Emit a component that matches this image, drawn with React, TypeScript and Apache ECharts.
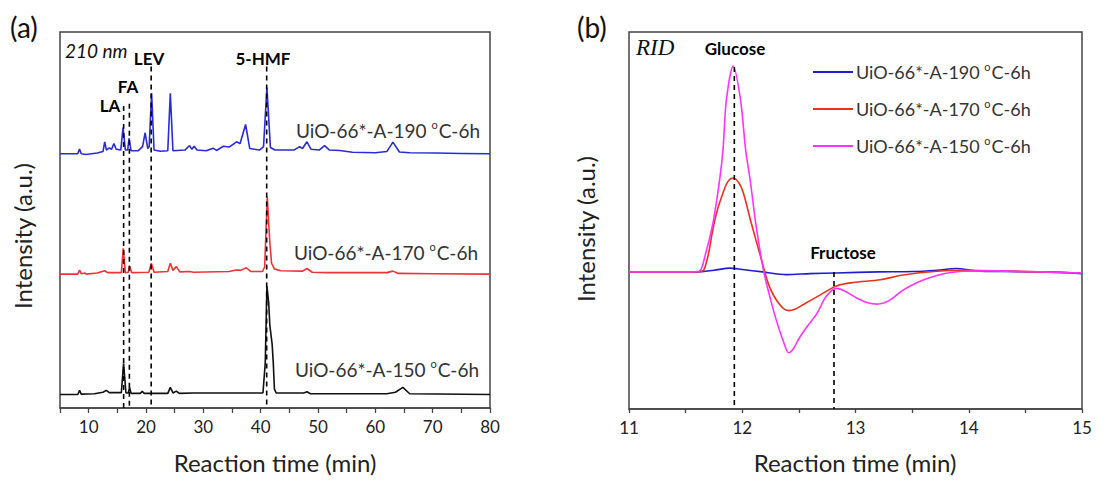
import React, { useEffect, useRef } from "react";
import * as echarts from "echarts";

// ---------- Panel (a): UV 210 nm chromatograms ----------
const blueA: number[][] = [
  [5, 67.6], [8.1, 67.6], [8.4, 68.9], [8.7, 67.6], [9.5, 67.4], [11.5, 67.8], [12.5, 68.2], [12.8, 70.8],
  [13.1, 68.6], [13.6, 69.2], [14.0, 68.8], [14.4, 70.3], [14.8, 68.8], [15.6, 68.6], [16.0, 74.6], [16.4, 68.6],
  [16.8, 68.6], [17.05, 71.7], [17.4, 68.4], [18.6, 68.4], [19.4, 69.5], [19.85, 73.2], [20.3, 69.0], [20.55, 69.5],
  [20.98, 83.7], [21.4, 68.6], [22.5, 68.3], [23.8, 68.4], [24.24, 83.7], [24.7, 68.4], [26.8, 68.6], [27.6, 69.8],
  [28.0, 68.8], [28.4, 69.6], [28.9, 68.6], [30.5, 68.4], [31.7, 69.1], [32.3, 68.5], [33.5, 69.6], [34.5, 69.4],
  [35.8, 70.8], [36.4, 70.3], [37.37, 75.4], [38.1, 69.0], [39.8, 68.6], [40.5, 69.5], [41.09, 85.2], [41.7, 69.3],
  [42.5, 68.6], [45.8, 68.6], [46.8, 69.5], [47.3, 69.0], [48.07, 70.8], [48.8, 68.8], [50.2, 68.6], [51.15, 69.8],
  [52.0, 68.6], [53.8, 68.5], [56, 68.0], [60, 67.9], [62.0, 68.2], [63.07, 70.7], [64.2, 68.1], [66, 67.9],
  [70.6, 67.8], [75, 67.7], [80, 67.6],
];
const redA: number[][] = [
  [5, 35.6], [8.1, 35.6], [8.42, 36.7], [8.7, 35.7], [9.3, 35.9], [9.6, 35.6], [11.5, 35.9], [12.8, 36.5],
  [13.3, 36.0], [15.7, 36.0], [16.04, 42.5], [16.4, 36.0], [16.9, 36.1], [17.14, 37.8], [17.5, 36.0], [20.5, 36.1],
  [20.93, 38.5], [21.4, 36.1], [23.8, 36.3], [24.24, 38.5], [24.7, 36.6], [25.29, 37.6], [25.9, 36.2], [27.6, 36.3],
  [28.3, 36.1], [34.5, 36.3], [35.75, 36.7], [36.5, 36.6], [37.5, 37.3], [38.3, 36.3], [40.3, 36.3], [40.7, 37.5],
  [41.15, 56.2], [41.6, 44], [41.9, 38.5], [42.4, 37.0], [43.5, 36.5], [47.3, 36.4], [48.07, 37.1], [49, 36.1],
  [51.5, 36.0], [62, 36.0], [63.07, 36.4], [64, 35.8], [70, 35.7], [80, 35.6],
];
const blackA: number[][] = [
  [5, 3.6], [8.1, 3.6], [8.42, 4.7], [8.7, 3.7], [11, 3.8], [12.5, 4.2], [13.07, 4.7], [13.6, 4.1],
  [15.7, 4.1], [16.09, 11.9], [16.5, 4.0], [16.9, 4.0], [17.14, 5.5], [17.4, 3.9], [19.0, 3.9], [19.35, 4.4],
  [19.7, 3.9], [23.8, 3.9], [24.24, 5.5], [24.7, 4.0], [25.29, 4.5], [25.8, 3.9], [28.3, 4.0], [35.5, 4.0],
  [40.4, 4.0], [40.8, 12], [41.09, 32.4], [41.4, 28], [41.6, 22], [42.0, 17], [42.2, 12], [42.4, 5],
  [42.7, 4.0], [47.5, 4.0], [48.07, 4.3], [48.7, 3.8], [62, 3.8], [63.5, 4.2], [64.8, 5.5], [66, 3.8], [80, 3.6],
];
const markerTimesA = [16.1, 17.1, 20.9, 41.05];
const markerTopsA = [80.3, 80.9, 90.8, 90.8];
const markerNamesA = ["LA", "FA", "LEV", "5-HMF"];

// ---------- Panel (b): RID chromatograms ----------
const blueB: number[][] = [
  [11, 0], [11.6, 0], [11.75, 0.5], [11.89, 1.1], [12.0, 0.7], [12.18, 0], [12.39, -0.8], [12.6, -0.5],
  [12.83, -0.3], [13.2, 0], [13.5, 0.1], [13.72, 0.5], [13.89, 1.0], [14.07, 0.3], [14.3, 0.1], [14.7, 0], [15, -0.5],
];
const redB: number[][] = [
  [11, 0], [11.55, 0], [11.63, 0.1], [11.66, 0.5], [11.7, 5], [11.74, 12.3], [11.78, 18], [11.83, 23],
  [11.87, 26.2], [11.92, 27.4], [11.97, 26], [12.01, 23], [12.08, 14.2], [12.17, 3.5], [12.24, -4.3], [12.33, -9.5],
  [12.41, -11.3], [12.47, -10.8], [12.54, -9.5], [12.69, -6.7], [12.83, -4.1], [12.98, -3.1], [13.22, -2.3],
  [13.42, -0.9], [13.72, 0.2], [14.0, 0.5], [14.3, 0.3], [14.6, 0], [15, -0.4],
];
const magentaB: number[][] = [
  [11, 0], [11.5, 0], [11.62, 0.2], [11.67, 4.5], [11.74, 14], [11.8, 26.8], [11.83, 35.6], [11.86, 50.2],
  [11.92, 60.1], [11.985, 50.2], [12.03, 35.6], [12.07, 26.8], [12.12, 14], [12.19, 0], [12.25, -8], [12.3, -14],
  [12.36, -20], [12.41, -23.6], [12.45, -22.5], [12.5, -19.5], [12.56, -16.5], [12.66, -12.1], [12.74, -7.2],
  [12.83, -4.8], [12.9, -5.5], [13.01, -7.6], [13.1, -8.9], [13.19, -9.4], [13.3, -8.3], [13.42, -5.3],
  [13.55, -3], [13.66, -1.6], [13.8, -0.4], [13.95, 0.2], [14.2, 0.3], [14.5, 0.1], [15, -0.3],
];
const markerTimesB = [11.93, 12.81];
const markerTopsB = [59.8, 0];

const sampleNames = ["UiO-66*-A-190 °C-6h", "UiO-66*-A-170 °C-6h", "UiO-66*-A-150 °C-6h"];
const FONT = "Lato, 'Open Sans', sans-serif";

function supText(s: string) {
  return s.replace(" °C", " {s|o}C");
}

export default function App() {
  const ref = useRef<HTMLDivElement>(null);
  useEffect(() => {
    if (!ref.current) return;
    const chart = echarts.init(ref.current, undefined, { renderer: "svg" });
    const dashStyle = { color: "#000", width: 1.6, type: [5, 4] as any };
    const axisColor = "#444";

    const seriesA: any[] = [
      { name: "a190", data: blueA, color: "#2a2ad8" },
      { name: "a170", data: redA, color: "#ee3333" },
      { name: "a150", data: blackA, color: "#111111" },
    ].map((s) => ({
      type: "line", name: s.name, xAxisIndex: 0, yAxisIndex: 0, data: s.data, symbol: "none",
      lineStyle: { color: s.color, width: 1.6 }, itemStyle: { color: s.color }, z: 2, silent: true,
    }));
    markerTimesA.forEach((t, i) => {
      seriesA.push({
        type: "line", name: "mA" + i, xAxisIndex: 0, yAxisIndex: 0, symbol: "none", z: 5, silent: true,
        data: [[t, markerTopsA[i]], [t, 0]], lineStyle: dashStyle,
      });
    });

    const seriesB: any[] = [
      { name: sampleNames[0], data: blueB, color: "#1e1ed0" },
      { name: sampleNames[1], data: redB, color: "#e8321e" },
      { name: sampleNames[2], data: magentaB, color: "#ff33ff" },
    ].map((s) => ({
      type: "line", name: s.name, xAxisIndex: 1, yAxisIndex: 1, data: s.data, symbol: "none", smooth: 0.3,
      lineStyle: { color: s.color, width: 1.6 }, itemStyle: { color: s.color }, z: 2, silent: true,
    }));
    markerTimesB.forEach((t, i) => {
      seriesB.push({
        type: "line", name: "mB" + i, xAxisIndex: 1, yAxisIndex: 1, symbol: "none", z: 5, silent: true,
        data: [[t, markerTopsB[i]], [t, -40]], lineStyle: dashStyle,
      });
    });

    const xAxisCommon = {
      type: "value",
      axisLine: { show: true, onZero: false, lineStyle: { color: axisColor, width: 1.5 } },
      axisTick: { show: true, length: 5, lineStyle: { color: axisColor, width: 1.3 } },
      splitLine: { show: false },
      axisLabel: { color: "#222", fontSize: 17, fontFamily: FONT, margin: 10 },
    };
    const mkRich = (lh: number) => ({
      s: { fontSize: 11, fontFamily: FONT, color: "#333", lineHeight: 10, verticalAlign: "top", padding: [0, 1, 0, 0] },
      n: { lineHeight: lh },
    });
    const seriesLabel = (text: string, x: number, y: number) => ({
      type: "text", x, y,
      style: {
        text: supText(text), fontSize: 19, lineHeight: 22, fontFamily: FONT, fill: "#333",
        verticalAlign: "middle", rich: mkRich(22),
      },
    });
    const boldLabel = (text: string, x: number, y: number) => ({
      type: "text", x, y,
      style: { text, fontSize: 17, fontWeight: "bold", fontFamily: FONT, fill: "#000", align: "center", verticalAlign: "middle" },
    });

    chart.setOption({
      animation: false,
      backgroundColor: "#fff",
      grid: [
        { left: 60, top: 32, right: 614, bottom: 73, show: true, borderColor: axisColor, borderWidth: 1.5, containLabel: false },
        { left: 629, top: 32, right: 22, bottom: 72, show: true, borderColor: axisColor, borderWidth: 1.5, containLabel: false },
      ],
      xAxis: [
        {
          ...xAxisCommon, gridIndex: 0, min: 5, max: 80, interval: 5,
          axisLabel: { ...xAxisCommon.axisLabel, formatter: (v: number) => (v % 10 === 0 ? String(v) : "") },
        },
        {
          ...xAxisCommon, gridIndex: 1, min: 11, max: 15, interval: 0.5,
          axisTick: { ...xAxisCommon.axisTick, length: 4 },
          axisLabel: { ...xAxisCommon.axisLabel, formatter: (v: number) => (Number.isInteger(v) ? String(v) : "") },
        },
      ],
      yAxis: [
        { type: "value", gridIndex: 0, min: 0, max: 100, show: false },
        { type: "value", gridIndex: 1, min: -40, max: 70, show: false },
      ],
      legend: {
        data: sampleNames,
        orient: "vertical",
        left: 808,
        top: 56,
        itemWidth: 40,
        itemHeight: 14,
        itemGap: 15,
        icon: "path://M0,6 L40,6 L40,8 L0,8 Z",
        selectedMode: false,
        formatter: (name: string) => supText(name),
        textStyle: { fontSize: 18, fontFamily: FONT, color: "#333", lineHeight: 22, padding: [0, 0, 0, -2], rich: mkRich(22) },
      },
      series: [...seriesA, ...seriesB],
      graphic: [
        { type: "text", x: 10, y: 27, style: { text: "(a)", fontSize: 28, fontFamily: FONT, fill: "#111", verticalAlign: "middle" } },
        { type: "text", x: 577, y: 27, style: { text: "(b)", fontSize: 28, fontFamily: FONT, fill: "#111", verticalAlign: "middle" } },
        { type: "text", x: 65, y: 50, style: { text: "210 nm", fontSize: 19, fontStyle: "italic", fontFamily: FONT, fill: "#111", verticalAlign: "middle" } },
        { type: "text", x: 636, y: 47, style: { text: "RID", fontSize: 23, fontStyle: "italic", fontFamily: "'Liberation Serif', serif", fill: "#111", verticalAlign: "middle" } },
        boldLabel(markerNamesA[0], 110, 105),
        boldLabel(markerNamesA[1], 128, 86),
        boldLabel(markerNamesA[2], 149, 58),
        boldLabel(markerNamesA[3], 263, 58),
        boldLabel("Glucose", 735, 48),
        boldLabel("Fructose", 843, 252),
        seriesLabel(sampleNames[0], 296, 130),
        seriesLabel(sampleNames[1], 294, 252),
        seriesLabel(sampleNames[2], 295, 369),
        {
          type: "text", x: 22, y: 236, rotation: Math.PI / 2,
          style: { text: "Intensity (a.u.)", fontSize: 24, fontFamily: FONT, fill: "#222", align: "center", verticalAlign: "middle" },
        },
        {
          type: "text", x: 585, y: 229, rotation: Math.PI / 2,
          style: { text: "Intensity (a.u.)", fontSize: 24, fontFamily: FONT, fill: "#222", align: "center", verticalAlign: "middle" },
        },
        {
          type: "text", x: 275, y: 462,
          style: { text: "Reaction time (min)", fontSize: 24, fontFamily: FONT, fill: "#222", align: "center", verticalAlign: "middle" },
        },
        {
          type: "text", x: 855, y: 462,
          style: { text: "Reaction time (min)", fontSize: 24, fontFamily: FONT, fill: "#222", align: "center", verticalAlign: "middle" },
        },
      ],
    });
    return () => chart.dispose();
  }, []);
  return <div ref={ref} style={{ position: "fixed", left: 0, top: 0, width: 1104, height: 481 }} />;
}
